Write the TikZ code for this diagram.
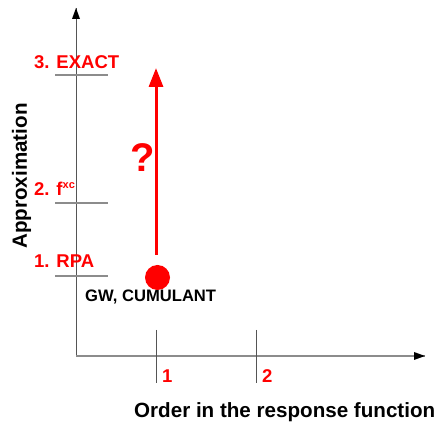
\documentclass[tikz,border=0pt]{standalone}
\usepackage{fontspec}
\setmainfont{Liberation Sans}
\usetikzlibrary{arrows.meta}
\definecolor{axisgray}{HTML}{555555}
\definecolor{tickgray}{HTML}{8C8C8C}
\definecolor{myred}{HTML}{FF0000}
\tikzset{
  hticks/.style={draw=tickgray, line width=1.3pt},
  vticks/.style={draw=axisgray, line width=0.9pt},
  redlab/.style={text=myred, font=\bfseries\fontsize{18.5}{20}\selectfont, inner sep=0pt, anchor=base west},
  blklab/.style={text=black, font=\bfseries\fontsize{20.6}{22}\selectfont, inner sep=0pt},
}
\begin{document}
\begin{tikzpicture}[x=1pt,y=-1pt]
\useasboundingbox (0,0) rectangle (437,427);
% axes
\coordinate (O) at (76,356);
\coordinate (ytip) at (76,8);
\coordinate (xtip) at (425,356);
\draw[draw=axisgray, line width=0.9pt] (O) -- (ytip);
\draw[draw=tickgray, line width=1.3pt] (O) -- (xtip);
\fill[black] (76,8) -- (72,19) -- (80,19) -- cycle;
\fill[black] (425,356) -- (414,352) -- (414,360) -- cycle;
% horizontal ticks
\coordinate (t3a) at (55,75); \coordinate (t3b) at (108,75);
\coordinate (t2a) at (55,203); \coordinate (t2b) at (108,203);
\coordinate (t1a) at (55,276); \coordinate (t1b) at (108,276);
\draw[hticks] (t3a) -- (t3b);
\draw[hticks] (t2a) -- (t2b);
\draw[hticks] (t1a) -- (t1b);
% vertical ticks
\coordinate (v1a) at (156,330); \coordinate (v1b) at (156,383);
\coordinate (v2a) at (256,330); \coordinate (v2b) at (256,383);
\draw[vticks] (v1a) -- (v1b);
\draw[vticks] (v2a) -- (v2b);
% labels
\node[redlab] (exact) at (34,69) {3. EXACT};
\node[redlab] (fxc) at (34,196) {2. f\raisebox{7pt}{\fontsize{11}{12}\selectfont xc}};
\node[redlab] (rpa) at (34,268) {1. RPA};
\node[redlab] (one) at (162,383) {1};
\node[redlab] (two) at (262,383) {2};
\node[text=black, font=\bfseries\fontsize{16.6}{18}\selectfont, inner sep=0pt, anchor=base west] (gw) at (85,302) {GW, CUMULANT};
\node[blklab, anchor=base west] (xlab) at (134,418) {Order in the response function};
\node[blklab, rotate=90, anchor=base] (ylab) at (27,176) {Approximation};
% red arrow and dot
\coordinate (abot) at (156,255);
\coordinate (atop) at (156,68);
\draw[myred, line width=3pt, -{Triangle[width=14pt,length=19pt]}] (abot) -- (atop);
\fill[myred] (157.5,277.5) circle (12.5pt) node (dot) {};
\node[text=myred, font=\bfseries\fontsize{40}{42}\selectfont, inner sep=0pt] (q) at (143,158) {?};
\end{tikzpicture}
\end{document}
